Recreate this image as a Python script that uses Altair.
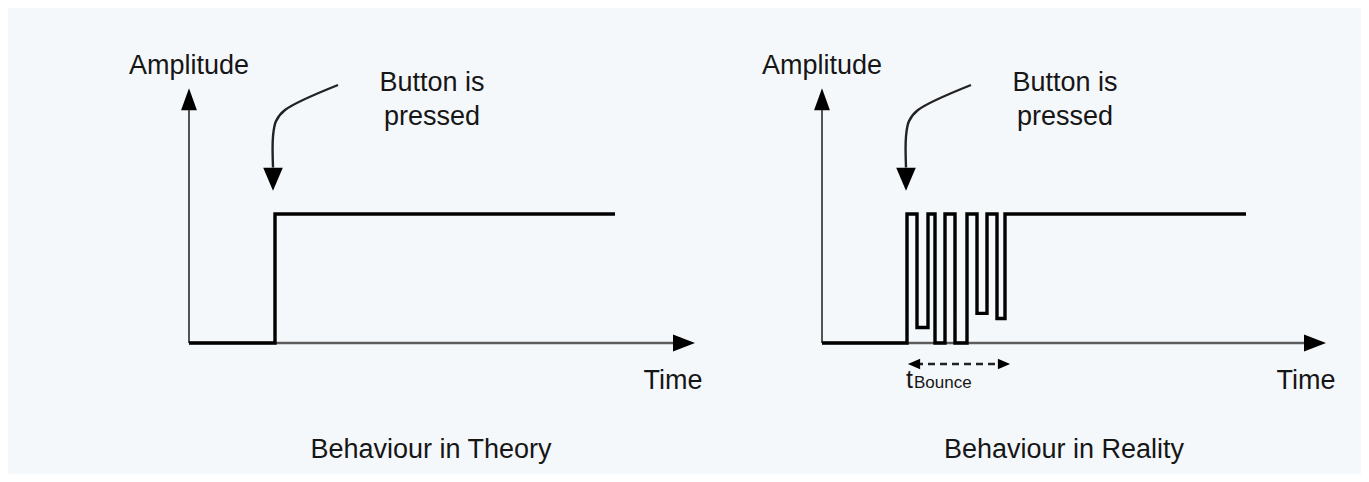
import altair as alt
import pandas as pd

# ---------------- data (time units / amplitude units) ----------------
panels = ["Theory", "Reality"]
panel_offset = [0.0, 63.3]          # time-origin of each diagram on the shared axis

theory_time = [0, 8.6, 8.6, 42.6]
theory_amp = [0, 0, 1, 1]

reality_time = [0, 8.5, 8.5, 9.5, 9.5, 10.6, 10.6, 11.3, 11.3, 12.3, 12.3, 13.3,
                13.3, 14.5, 14.5, 15.5, 15.5, 16.5, 16.5, 17.5, 17.5, 18.3, 18.3, 42.4]
reality_amp = [0, 0, 1, 1, 0.12, 0.12, 1, 1, 0, 0, 1, 1,
               0, 0, 1, 1, 0.23, 0.23, 1, 1, 0.19, 0.19, 1, 1]

x_axis_end = [48.4, 48.2]        # end of time-axis line
x_head_center = [49.5, 49.3]     # time-axis arrow head
y_axis_end = 1.85                # end of amplitude-axis line
y_head_center = 1.89             # amplitude-axis arrow head

# curved "Button is pressed" pointer
pointer_time = [14.9, 9.6, 8.7, 8.4, 8.4]
pointer_amp = [2.0, 1.806, 1.72, 1.60, 1.36]
pointer_head = (8.4, 1.27)

# t_Bounce dimension arrow (Reality only)
bounce_line = (9.4, 17.8, -0.163)
bounce_heads_time = [9.2, 18.2]

titles = ["Behaviour in Theory", "Behaviour in Reality"]
label_amplitude = "Amplitude"
label_time = "Time"
label_button = ["Button is", "pressed"]

X_DOMAIN = [-18.1, 117.2]
Y_DOMAIN = [-1.0155, 2.5969]

xs = alt.Scale(domain=X_DOMAIN, nice=False, zero=False)
ys = alt.Scale(domain=Y_DOMAIN, nice=False, zero=False)

def X(f="x"):
    return alt.X(f"{f}:Q", scale=xs, axis=None)

def Y(f="y"):
    return alt.Y(f"{f}:Q", scale=ys, axis=None)

# ---------------- build tables ----------------
sig_rows = []
for p, off, tt, aa in [(panels[0], panel_offset[0], theory_time, theory_amp),
                       (panels[1], panel_offset[1], reality_time, reality_amp)]:
    for i, (t, a) in enumerate(zip(tt, aa)):
        sig_rows.append({"panel": p, "i": i, "x": t + off, "y": a})
sig = pd.DataFrame(sig_rows)

xaxis = pd.DataFrame({"panel": panels,
                      "x": [o for o in panel_offset],
                      "x2": [o + e for o, e in zip(panel_offset, x_axis_end)],
                      "y": [0, 0]})
yaxis = pd.DataFrame({"panel": panels,
                      "x": panel_offset,
                      "y": [0, 0], "y2": [y_axis_end, y_axis_end]})

ptr_rows = []
for p, off in zip(panels, panel_offset):
    for i, (t, a) in enumerate(zip(pointer_time, pointer_amp)):
        ptr_rows.append({"panel": p, "i": i, "x": t + off, "y": a})
ptr = pd.DataFrame(ptr_rows)

UP = "M0,-1L0.72,1L-0.72,1Z"
RIGHT = "M1,0L-1,0.78L-1,-0.78Z"
DOWN = "M0,1L0.85,-1L-0.85,-1Z"
SMALL_L = "M-1,0L1,0.85L1,-0.85Z"
SMALL_R = "M1,0L-1,0.85L-1,-0.85Z"

head_rows = []
for p, off, xh in zip(panels, panel_offset, x_head_center):
    head_rows.append({"x": off, "y": y_head_center, "shape": UP, "size": 484})
    head_rows.append({"x": off + xh, "y": 0, "shape": RIGHT, "size": 484})
    head_rows.append({"x": off + pointer_head[0], "y": pointer_head[1], "shape": DOWN, "size": 529})
head_rows.append({"x": panel_offset[1] + bounce_heads_time[0], "y": bounce_line[2], "shape": SMALL_L, "size": 150})
head_rows.append({"x": panel_offset[1] + bounce_heads_time[1], "y": bounce_line[2], "shape": SMALL_R, "size": 150})
heads = pd.DataFrame(head_rows)

dash = pd.DataFrame({"x": [panel_offset[1] + bounce_line[0]],
                     "x2": [panel_offset[1] + bounce_line[1]],
                     "y": [bounce_line[2]]})

txt_rows = []
for p, off, ttl in zip(panels, panel_offset, titles):
    txt_rows.append({"x": off + 0.0, "y": 2.147, "text": label_amplitude})
    txt_rows.append({"x": off + 24.3, "y": 2.016, "text": label_button[0]})
    txt_rows.append({"x": off + 24.3, "y": 1.752, "text": label_button[1]})
    txt_rows.append({"x": off + 48.4, "y": -0.295, "text": label_time})
    txt_rows.append({"x": off + 24.2, "y": -0.829, "text": ttl})
texts = pd.DataFrame(txt_rows)

bounce_txt = pd.DataFrame({"x": [panel_offset[1] + 8.4, panel_offset[1] + 9.2],
                           "y": [-0.352, -0.352],
                           "text": ["t", "Bounce"],
                           "fs": [25, 17]})

FONT = "Liberation Sans"
INK = "#161616"

# ---------------- layers ----------------
l_xaxis = alt.Chart(xaxis).mark_rule(color="#5c5c5c", strokeWidth=2.4).encode(
    x=X("x"), x2="x2:Q", y=Y("y"))
l_yaxis = alt.Chart(yaxis).mark_rule(color="#2a2a2a", strokeWidth=1.6).encode(
    x=X("x"), y=Y("y"), y2="y2:Q")
l_sig = alt.Chart(sig).mark_line(color="black", strokeWidth=3.4, strokeJoin="miter").encode(
    x=X("x"), y=Y("y"), detail="panel:N", order="i:Q")
l_ptr = alt.Chart(ptr).mark_line(color="#222222", strokeWidth=2.4, interpolate="catmull-rom").encode(
    x=X("x"), y=Y("y"), detail="panel:N", order="i:Q")
l_dash = alt.Chart(dash).mark_rule(color="#222222", strokeWidth=2.4, strokeDash=[7, 5]).encode(
    x=X("x"), x2="x2:Q", y=Y("y"))
l_heads = alt.Chart(heads).mark_point(filled=True, color="black", opacity=1, strokeWidth=0).encode(
    x=X("x"), y=Y("y"),
    shape=alt.Shape("shape:N", scale=None),
    size=alt.Size("size:Q", scale=None))
l_text = alt.Chart(texts).mark_text(font=FONT, fontSize=27, color=INK,
                                    align="center", baseline="middle").encode(
    x=X("x"), y=Y("y"), text="text:N")
l_bt = alt.Chart(bounce_txt).mark_text(font=FONT, color=INK, align="left",
                                       baseline="alphabetic").encode(
    x=X("x"), y=Y("y"), text="text:N", size=alt.Size("fs:Q", scale=None))

chart = alt.layer(l_xaxis, l_yaxis, l_sig, l_ptr, l_dash, l_heads, l_text, l_bt).properties(
    width=1353, height=466,
    autosize=alt.AutoSizeParams(type="none"),
    padding=0,
    background="#f5f8fb",
).configure_view(stroke=None)

chart.save("out.html", embed_options={"renderer": "svg", "actions": False})
